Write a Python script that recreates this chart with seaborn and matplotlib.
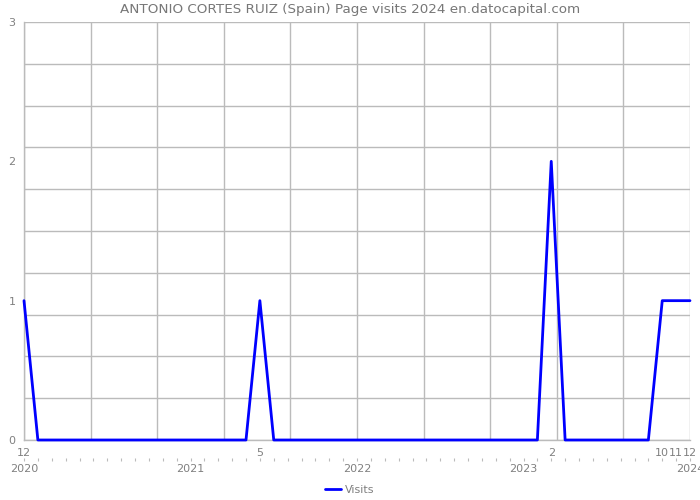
import matplotlib
matplotlib.use("Agg")
import matplotlib.pyplot as plt
import seaborn as sns
import numpy as np
import pandas as pd
from matplotlib.ticker import FixedLocator, MultipleLocator

# ---- data ----
month_index = list(range(49))  # Dec 2019 .. Dec 2023 (monthly)
visits = [1, 0, 0, 0, 0, 0, 0, 0, 0, 0, 0, 0,
          0, 0, 0, 0, 0, 1, 0, 0, 0, 0, 0, 0,
          0, 0, 0, 0, 0, 0, 0, 0, 0, 0, 0, 0,
          0, 0, 2, 0, 0, 0, 0, 0, 0, 0, 1, 1, 1]
month_tick_pos = [0, 17, 38, 46, 47, 48]
month_tick_labels = ["12", "5", "2", "10", "11", "12"]
year_tick_pos = [0, 12, 24, 36, 48]
year_tick_labels = ["2020", "2021", "2022", "2023", "2024"]
y_tick_labels = ["0", "1", "2", "3"]
title = "ANTONIO CORTES RUIZ (Spain) Page visits 2024 en.datocapital.com"

df = pd.DataFrame({"month": month_index, "Visits": visits})

sns.set_style("white")
plt.rcParams["font.family"] = ["DejaVu Sans"]

fig = plt.figure(figsize=(7, 5), dpi=100)
ax = fig.add_axes([24 / 700, 1 - 440 / 500, 666 / 700, 418 / 500])

grid_c = "#bbbbbb"
text_c = "#808080"

# grid
for gx in np.linspace(0, 48, 11):
    ax.axvline(gx, color=grid_c, lw=1, zorder=0)
for gy in np.linspace(0, 3, 11):
    ax.axhline(gy, color=grid_c, lw=1, zorder=0)

sns.lineplot(data=df, x="month", y="Visits", ax=ax, color="#0000ff",
             lw=2, label="Visits", legend=False, clip_on=False, zorder=3)

ax.set_xlim(0, 48)
ax.set_ylim(0, 3)
ax.set_xlabel("")
ax.set_ylabel("")

for s in ["top", "right"]:
    ax.spines[s].set_visible(False)
for s in ["left", "bottom"]:
    ax.spines[s].set_color(grid_c)
    ax.spines[s].set_linewidth(1)

ax.xaxis.set_major_locator(FixedLocator(month_tick_pos))
ax.set_xticklabels(month_tick_labels)
ax.xaxis.set_minor_locator(MultipleLocator(1))
ax.tick_params(axis="x", which="major", length=4.5, width=0.8, color=grid_c,
               labelsize=8, labelcolor=text_c, pad=1.5)
ax.tick_params(axis="x", which="minor", length=2, width=0.8, color=grid_c)

ax.set_yticks([0, 1, 2, 3])
ax.set_yticklabels(y_tick_labels)
ax.yaxis.set_minor_locator(MultipleLocator(0.1))
ax.tick_params(axis="y", which="major", length=3, width=0.8, color=grid_c,
               labelsize=8, labelcolor=text_c, pad=3)
ax.tick_params(axis="y", which="minor", length=2, width=0.8, color=grid_c)

# year row
sec = ax.secondary_xaxis(-18 / 418)
sec.spines["bottom"].set_visible(False)
sec.xaxis.set_major_locator(FixedLocator(year_tick_pos))
sec.set_xticklabels(year_tick_labels)
sec.xaxis.set_minor_locator(MultipleLocator(1))
sec.tick_params(axis="x", which="major", length=2, width=0.8, color=grid_c,
                labelsize=8, labelcolor=text_c, pad=2.5)
sec.tick_params(axis="x", which="minor", length=2, width=0.8, color=grid_c)

fig.text(0.5, 1 - 10 / 500, title, ha="center", va="center",
         fontsize=9.7, color="#777777")

handles, labels = ax.get_legend_handles_labels()
fig.legend(handles, labels, loc="center", bbox_to_anchor=(0.5, 1 - 490 / 500),
           frameon=False, fontsize=8, handlelength=1.4, handletextpad=0.4,
           labelcolor="#808080")

fig.savefig("out.png", dpi=100)
